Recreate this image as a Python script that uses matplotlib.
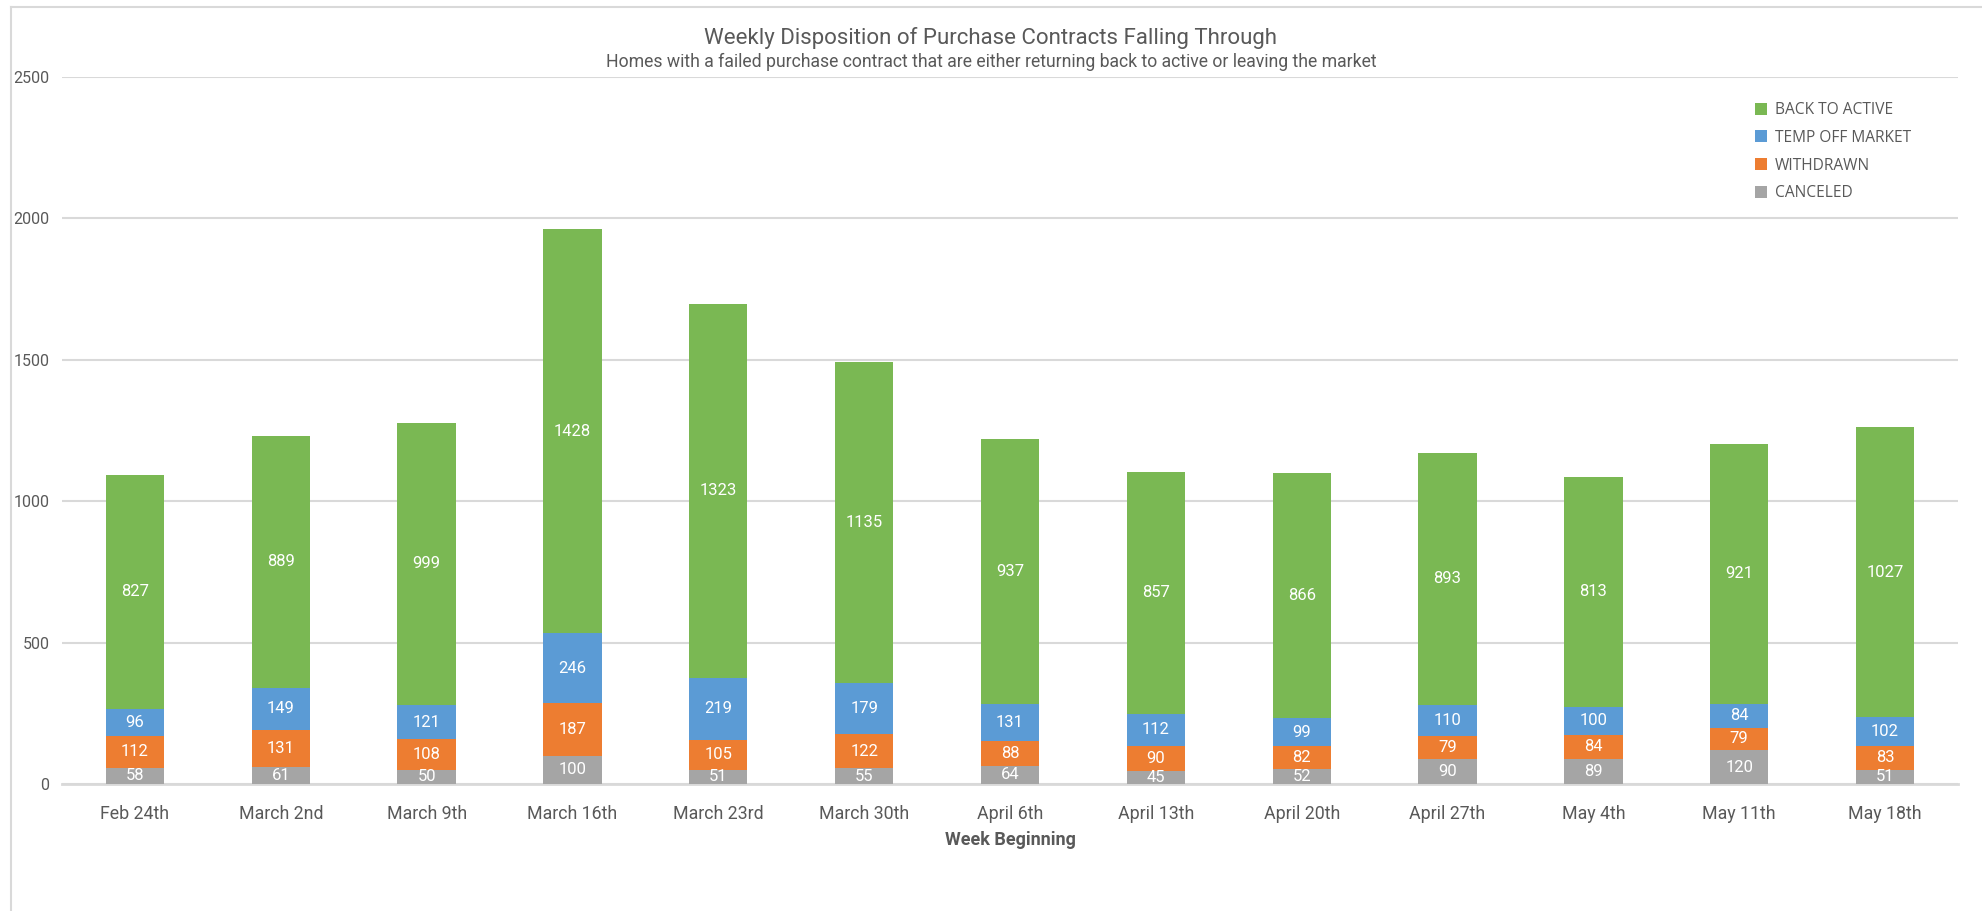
import numpy as np
import matplotlib
matplotlib.use("Agg")
import matplotlib.pyplot as plt
from matplotlib.lines import Line2D
from matplotlib.patches import Patch

weeks = ["Feb 24th", "March 2nd", "March 9th", "March 16th", "March 23rd",
         "March 30th", "April 6th", "April 13th", "April 20th", "April 27th",
         "May 4th", "May 11th", "May 18th"]
canceled = [58, 61, 50, 100, 51, 55, 64, 45, 52, 90, 89, 120, 51]
withdrawn = [112, 131, 108, 187, 105, 122, 88, 90, 82, 79, 84, 79, 83]
temp_off = [96, 149, 121, 246, 219, 179, 131, 112, 99, 110, 100, 84, 102]
back_active = [827, 889, 999, 1428, 1323, 1135, 937, 857, 866, 893, 813, 921, 1027]

series_names = ["CANCELED", "WITHDRAWN", "TEMP OFF MARKET", "BACK TO ACTIVE"]
series_vals = [canceled, withdrawn, temp_off, back_active]
colors = ["#A5A5A5", "#ED7D31", "#5B9BD5", "#7AB853"]

TXT = "#595959"
GRID = "#D9D9D9"
narrow = ["Roboto", "DejaVu Sans"]

fig = plt.figure(figsize=(19.82, 9.11), dpi=100)
fig.patch.set_facecolor("white")
ax = fig.add_axes([62 / 1982, 1 - 784 / 911, (1958 - 62) / 1982, (784 - 77) / 911])

x = np.arange(len(weeks))
bottom = np.zeros(len(weeks))
for name, vals, col in zip(series_names, series_vals, colors):
    vals = np.array(vals, dtype=float)
    ax.bar(x, vals, width=0.4, bottom=bottom, color=col, label=name, zorder=3)
    # labels centred in each segment, like excel does
    for xi, b, v in zip(x, bottom, vals):
        ax.text(xi, b + v / 2, f"{int(v)}", ha="center", va="center",
                color="white", fontsize=12, family=narrow, zorder=4)
    bottom += vals

ax.set_xlim(-0.5, len(weeks) - 0.5)
ax.set_ylim(0, 2500)
ax.set_yticks(np.arange(0, 2501, 500))
ax.yaxis.grid(True, color=GRID, linewidth=1.5, zorder=0)
ax.set_axisbelow(True)
for s in ["top", "right", "left"]:
    ax.spines[s].set_visible(False)
ax.spines["bottom"].set_color(GRID)
ax.spines["bottom"].set_linewidth(2)

ax.set_xticks(x)
ax.set_xticklabels(weeks, family=narrow, fontsize=12.8, color=TXT)
ax.tick_params(axis="both", length=0, colors=TXT)
ax.tick_params(axis="x", pad=15)
ax.tick_params(axis="y", pad=9)
for lbl in ax.get_yticklabels():
    lbl.set_family(narrow)
    lbl.set_fontsize(11.5)

ax.set_xlabel("Week Beginning", family=narrow, fontsize=13, fontweight="bold",
              color=TXT, labelpad=6)

fig.text(0.5, 1 - 38 / 911, "Weekly Disposition of Purchase Contracts Falling Through",
         ha="center", va="center", fontsize=16, color=TXT, family=narrow)
fig.text(0.5, 1 - 62 / 911,
         "Homes with a failed purchase contract that are either returning back to active or leaving the market",
         ha="center", va="center", fontsize=12.7, color=TXT, family=narrow)

# legend, top entry is the top of the stack
handles = [Patch(facecolor=c, edgecolor="none") for c in colors][::-1]
leg = fig.legend(handles, series_names[::-1], loc="upper left",
                 bbox_to_anchor=(1741 / 1982, 1 - 88 / 911), frameon=False,
                 labelcolor=TXT, handlelength=0.8, handleheight=0.8,
                 handletextpad=0.5, labelspacing=0.76,
                 prop={"family": ["Open Sans", "DejaVu Sans"], "size": 11.2})

# chart frame edges
fig.add_artist(Line2D([11 / 1982, 11 / 1982], [0, 1 - 7 / 911], color=GRID, linewidth=1.5,
                      transform=fig.transFigure))
fig.add_artist(Line2D([11 / 1982, 1], [1 - 7 / 911, 1 - 7 / 911], color=GRID, linewidth=1.5,
                      transform=fig.transFigure))

fig.savefig("out.png", dpi=100, facecolor="white")
